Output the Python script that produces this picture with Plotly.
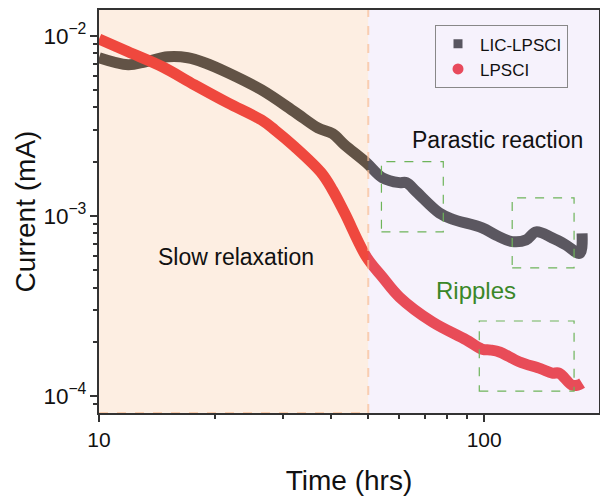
import plotly.graph_objects as go
import math

# ---- data ----
lic_x = [10, 11.9, 13.2, 15.1, 17.0, 18.8, 21.6, 26.4, 32.2, 37.0, 40.4, 43.4, 49.5,
         54.4, 60.2, 62.8, 66.7, 76.4, 82.6, 98.8, 107.4, 118.2, 128.5, 136.4, 150.1,
         163.0, 177.0, 179.5]
lic_y = [7.55e-3, 6.90e-3, 7.17e-3, 7.64e-3, 7.55e-3, 7.08e-3, 6.23e-3, 5.01e-3, 3.78e-3,
         3.08e-3, 2.86e-3, 2.48e-3, 1.97e-3, 1.63e-3, 1.53e-3, 1.53e-3, 1.36e-3, 1.04e-3,
         9.6e-4, 8.58e-4, 7.8e-4, 7.2e-4, 7.36e-4, 8.15e-4, 7.55e-4, 6.9e-4, 6.2e-4, 8.0e-4]

lps_x = [10, 11.9, 14.6, 17.7, 21.6, 26.4, 28.6, 32.2, 37.8, 40.4, 43.4, 49.5, 54.4,
         60.2, 73.3, 89.8, 98.8, 104, 110, 123.2, 140, 150.1, 156.4, 169.0, 175, 179.5]
lps_y = [9.6e-3, 8.15e-3, 6.73e-3, 5.34e-3, 4.24e-3, 3.41e-3, 3.00e-3, 2.42e-3, 1.73e-3,
         1.39e-3, 1.04e-3, 5.9e-4, 4.58e-4, 3.55e-4, 2.58e-4, 2.05e-4, 1.82e-4, 1.80e-4,
         1.75e-4, 1.55e-4, 1.42e-4, 1.34e-4, 1.34e-4, 1.15e-4, 1.15e-4, 1.18e-4]

series_names = ["LIC-LPSCI", "LPSCI"]
region_split = 50      # hrs: slow relaxation | parasitic reaction
x_range_hrs = [10, 198.6]
y_range_mA = [8.05e-5, 1.39e-2]
ripple_boxes = [  # (x0, x1, y0, y1) in data units
    (54.1, 78.3, 8.15e-4, 2.0e-3),
    (118.2, 171.1, 5.14e-4, 1.26e-3),
    (97.1, 171.1, 1.066e-4, 2.61e-4),
]

FONT = "Liberation Sans, Arial, sans-serif"
GRAY = "rgb(62,62,60)"
RED = "rgb(238,48,50)"

fig = go.Figure()
fig.add_trace(go.Scatter(x=lic_x, y=lic_y, mode="lines", showlegend=False,
                         line=dict(color=GRAY, width=11, shape="spline", smoothing=1.0)))
fig.add_trace(go.Scatter(x=lps_x, y=lps_y, mode="lines", showlegend=False,
                         line=dict(color=RED, width=11, shape="spline", smoothing=1.0)))
# legend entries
fig.add_trace(go.Scatter(x=[None], y=[None], mode="markers", name=series_names[0],
                         marker=dict(symbol="square", size=9, color="rgb(88,86,96)")))
fig.add_trace(go.Scatter(x=[None], y=[None], mode="markers", name=series_names[1],
                         marker=dict(symbol="circle", size=11, color="rgb(232,74,92)")))

shapes = [
    dict(type="rect", xref="x", yref="y", layer="above",
         x0=x_range_hrs[0], x1=region_split, y0=y_range_mA[0], y1=y_range_mA[1],
         fillcolor="rgba(245,170,110,0.2)", line=dict(width=0)),
    dict(type="rect", xref="x", yref="y", layer="above",
         x0=region_split, x1=x_range_hrs[1], y0=y_range_mA[0], y1=y_range_mA[1],
         fillcolor="rgba(210,190,240,0.2)", line=dict(width=0)),
    dict(type="line", xref="x", yref="y", layer="above",
         x0=region_split, x1=region_split, y0=y_range_mA[0], y1=y_range_mA[1],
         line=dict(color="rgba(248,190,150,0.7)", width=2, dash="dash")),
    dict(type="line", xref="x", yref="y", layer="above",
         x0=x_range_hrs[0], x1=region_split, y0=y_range_mA[0], y1=y_range_mA[0],
         line=dict(color="rgba(248,190,150,0.7)", width=2, dash="dash")),
]
for (bx0, bx1, by0, by1) in ripple_boxes:
    shapes.append(dict(type="rect", xref="x", yref="y", layer="above",
                       x0=bx0, x1=bx1, y0=by0, y1=by1, fillcolor="rgba(0,0,0,0)",
                       line=dict(color="rgb(110,180,90)", width=1.2, dash="dash")))

annotations = [
    dict(text="Slow relaxation", x=0.274, y=0.387, xref="paper", yref="paper",
         xanchor="center", yanchor="middle",
         showarrow=False, font=dict(family=FONT, size=23, color="#111")),
    dict(text="Parastic reaction", x=0.796, y=0.677, xref="paper", yref="paper",
         xanchor="center", yanchor="middle",
         showarrow=False, font=dict(family=FONT, size=23, color="#111")),
    dict(text="Ripples", x=0.754, y=0.305, xref="paper", yref="paper",
         xanchor="center", yanchor="middle",
         showarrow=False, font=dict(family=FONT, size=24, color="rgb(58,135,40)")),
]

axis_common = dict(showline=True, mirror=True, linecolor="#333", linewidth=2,
                   ticks="outside", tickcolor="#333", tickwidth=1.5, ticklen=7,
                   showgrid=False, zeroline=False, automargin=False,
                   minor=dict(ticks="outside", ticklen=4, tickcolor="#333", tickwidth=1.5,
                              showgrid=False))

fig.update_layout(
    width=600, height=496,
    margin=dict(l=99, r=1, t=10, b=83),
    paper_bgcolor="white", plot_bgcolor="white",
    font=dict(family=FONT, color="#111"),
    shapes=shapes, annotations=annotations,
    legend=dict(x=0.672, y=0.962, xanchor="left", yanchor="top",
                bgcolor="rgba(0,0,0,0)", bordercolor="#888", borderwidth=1,
                itemwidth=34, tracegroupgap=0,
                font=dict(family=FONT, size=17, color="#111")),
    xaxis=dict(type="log", range=[math.log10(v) for v in x_range_hrs], dtick=1,
               tickfont=dict(family=FONT, size=21, color="#111"),
               title=dict(text="Time (hrs)", font=dict(family=FONT, size=28), standoff=20),
               **axis_common),
    yaxis=dict(type="log", range=[math.log10(v) for v in y_range_mA], dtick=1,
               exponentformat="power",
               tickfont=dict(family=FONT, size=18, color="#111"),
               title=dict(text="Current (mA)", font=dict(family=FONT, size=28), standoff=0),
               **axis_common),
)

fig.write_html("out.html", config={"displayModeBar": False},
               post_script="document.body.style.margin='0px';")
